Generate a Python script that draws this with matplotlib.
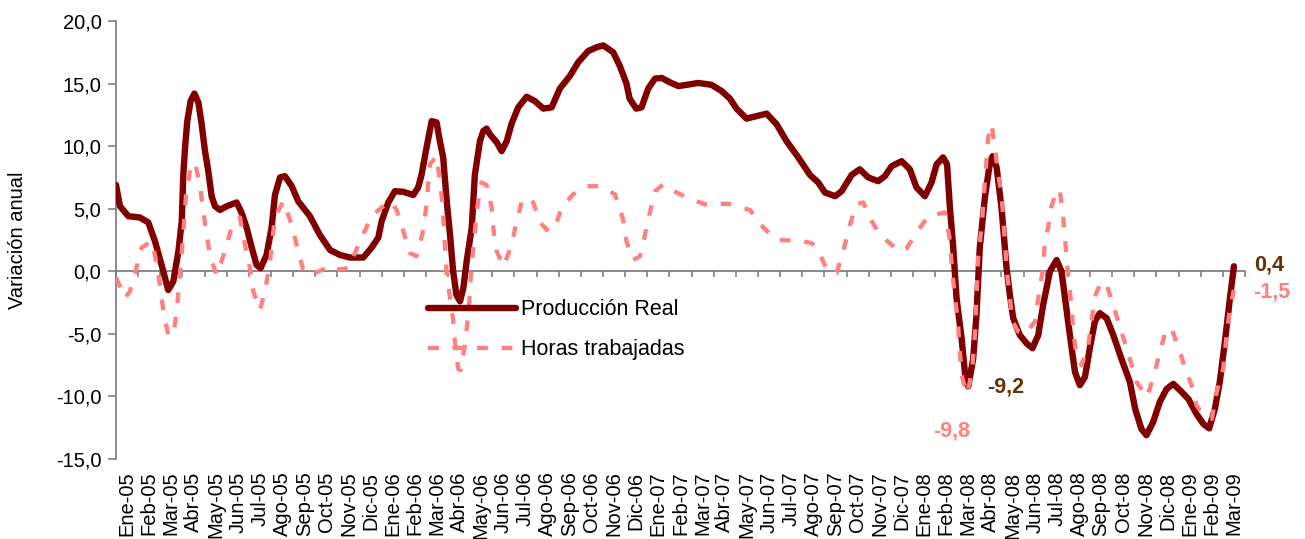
import matplotlib
matplotlib.use('Agg')
import matplotlib.pyplot as plt
from matplotlib.ticker import FuncFormatter

plt.rcParams['font.family'] = ['Liberation Sans', 'DejaVu Sans']

# meses (categorias del eje)
meses = ['Ene-05', 'Feb-05', 'Mar-05', 'Abr-05', 'May-05', 'Jun-05', 'Jul-05', 'Ago-05',
         'Sep-05', 'Oct-05', 'Nov-05', 'Dic-05', 'Ene-06', 'Feb-06', 'Mar-06', 'Abr-06',
         'May-06', 'Jun-06', 'Jul-06', 'Ago-06', 'Sep-06', 'Oct-06', 'Nov-06', 'Dic-06',
         'Ene-07', 'Feb-07', 'Mar-07', 'Abr-07', 'May-07', 'Jun-07', 'Jul-07', 'Ago-07',
         'Sep-07', 'Oct-07', 'Nov-07', 'Dic-07', 'Ene-08', 'Feb-08', 'Mar-08', 'Abr-08',
         'May-08', 'Jun-08', 'Jul-08', 'Ago-08', 'Sep-08', 'Oct-08', 'Nov-08', 'Dic-08',
         'Ene-09', 'Feb-09', 'Mar-09']

# produccion real: posicion (en meses desde Ene-05) y variacion anual
t_prod = [0.0, 0.18, 0.56, 1.08, 1.46, 1.76, 2.06, 2.36, 2.59, 2.82, 2.97, 3.04, 3.12, 3.22,
          3.37, 3.54, 3.72, 3.87, 4.02, 4.17, 4.32, 4.47, 4.70, 5.0, 5.45, 5.67, 5.9, 6.13,
          6.35, 6.53, 6.8, 7.03, 7.18, 7.41, 7.63, 7.94, 8.23, 8.76, 9.21, 9.67, 10.12,
          10.57, 11.17, 11.55, 11.85, 12.0, 12.3, 12.6, 12.98, 13.43, 13.65, 13.8, 14.03,
          14.26, 14.48, 14.63, 14.78, 14.94, 15.09, 15.23, 15.38, 15.54, 15.69, 15.84,
          16.07, 16.21, 16.44, 16.59, 16.74, 16.89, 17.2, 17.42, 17.65, 17.87, 18.17,
          18.55, 18.92, 19.3, 19.68, 20.05, 20.5, 20.88, 21.33, 21.71, 22.01, 22.46, 22.76,
          23.06, 23.2, 23.5, 23.74, 24.04, 24.35, 24.65, 25.02, 25.4, 25.78, 26.3, 26.9,
          27.36, 27.73, 28.03, 28.48, 28.94, 29.39, 29.84, 30.29, 30.82, 31.35, 31.72,
          32.02, 32.48, 32.78, 33.23, 33.6, 33.98, 34.43, 34.73, 35.04, 35.49, 35.86,
          36.16, 36.54, 36.84, 37.07, 37.36, 37.54, 37.67, 37.82, 37.97, 38.2, 38.39, 38.5,
          38.72, 38.87, 39.02, 39.25, 39.48, 39.6, 39.78, 40.0, 40.23, 40.38, 40.53, 40.83,
          41.13, 41.4, 41.66, 41.88, 42.19, 42.49, 42.71, 42.87, 43.09, 43.32, 43.54,
          43.77, 43.99, 44.22, 44.44, 44.75, 45.05, 45.42, 45.8, 46.04, 46.32, 46.55,
          46.85, 47.15, 47.46, 47.76, 48.06, 48.44, 48.81, 49.12, 49.38, 49.64, 49.86,
          50.09, 50.32, 50.5]
prod = [6.9, 5.2, 4.4, 4.3, 3.9, 2.4, 0.5, -1.5, -0.8, 1.6, 4.0, 7.7, 9.9, 12.0,
        13.6, 14.2, 13.5, 11.75, 9.6, 8.0, 6.0, 5.2, 4.9, 5.2, 5.5, 4.7, 3.5, 1.9,
        0.5, 0.25, 1.3, 3.5, 6.1, 7.5, 7.6, 6.8, 5.6, 4.4, 2.9, 1.7, 1.3,
        1.1, 1.1, 1.9, 2.7, 4.0, 5.5, 6.4, 6.35, 6.1, 6.7, 7.7, 9.9,
        12.0, 11.9, 10.4, 9.1, 5.6, 2.9, 0.0, -1.9, -2.4, -1.35, 0.8,
        3.5, 7.7, 10.4, 11.2, 11.4, 10.95, 10.3, 9.6, 10.4, 11.8, 13.1,
        13.95, 13.6, 13.0, 13.1, 14.6, 15.6, 16.7, 17.6, 17.9, 18.05, 17.5, 16.4,
        15.0, 13.8, 13.0, 13.1, 14.6, 15.4, 15.45, 15.1, 14.8, 14.9, 15.05, 14.9,
        14.4, 13.8, 13.0, 12.2, 12.4, 12.6, 11.75, 10.4, 9.1, 7.7, 7.1,
        6.3, 6.0, 6.4, 7.7, 8.15, 7.5, 7.2, 7.6, 8.4, 8.8, 8.15,
        6.7, 6.0, 7.1, 8.55, 9.1, 8.55, 5.1, 1.9, -2.15, -5.4, -8.85, -9.2,
        -7.0, -3.5, 1.9, 5.9, 8.7, 9.2, 8.3, 5.1, 0.25, -1.9, -3.75, -5.1,
        -5.75, -6.15, -5.1, -2.7, 0.0, 0.9, 0.0, -2.15, -5.1, -8.05, -9.1,
        -8.45, -6.15, -4.0, -3.35, -3.75, -5.1, -7.0, -8.85, -11.0, -12.6, -13.1,
        -12.05, -10.45, -9.4, -9.0, -9.5, -10.2, -11.4, -12.2, -12.55, -11.0, -8.85,
        -5.65, -2.15, 0.4]

# horas trabajadas
t_horas = [0.0, 0.41, 0.63, 0.86, 1.16, 1.61, 1.76, 1.99, 2.14, 2.36, 2.59, 2.74, 2.89,
           3.01, 3.16, 3.34, 3.57, 3.79, 3.94, 4.1, 4.25, 4.55, 4.92, 5.22, 5.6, 5.83,
           6.05, 6.2, 6.5, 6.73, 6.96, 7.18, 7.56, 7.94, 8.23, 8.46, 8.76, 9.3, 9.67,
           9.89, 10.49, 11.02, 11.55, 12.0, 12.38, 12.68, 12.98, 13.28, 13.58, 13.85,
           14.0, 14.18, 14.48, 14.63, 14.75, 14.81, 14.94, 15.09, 15.23, 15.31, 15.46,
           15.57, 15.76, 15.88, 15.96, 16.02, 16.11, 16.21, 16.32, 16.51, 16.74, 16.97,
           17.07, 17.2, 17.5, 17.87, 18.1, 18.33, 18.55, 18.85, 19.15, 19.53, 19.83,
           20.13, 20.65, 21.26, 21.86, 22.54, 22.69, 22.91, 23.06, 23.36, 23.67, 23.89,
           24.09, 24.35, 24.72, 25.32, 25.78, 26.6, 27.66, 28.64, 29.24, 29.84, 30.89,
           31.42, 31.65, 32.02, 32.32, 32.55, 32.85, 33.15, 33.45, 33.75, 34.2, 34.58,
           35.4, 35.7, 36.24, 36.7, 37.44, 37.64, 37.74, 37.82, 37.94, 38.05, 38.12,
           38.2, 38.42, 38.57, 38.69, 38.8, 38.87, 38.95, 39.1, 39.18, 39.25, 39.4,
           39.55, 39.7, 39.85, 40.0, 40.08, 40.15, 40.26, 40.38, 40.5, 40.75, 41.1,
           41.51, 41.66, 41.88, 41.96, 42.11, 42.26, 42.51, 42.64, 42.78, 42.87, 42.95,
           43.06, 43.17, 43.24, 43.39, 43.62, 43.92, 44.07, 44.22, 44.52, 44.75, 45.05,
           45.42, 45.8, 46.1, 46.58, 46.93, 47.15, 47.43, 47.68, 48.06, 48.36, 48.59,
           48.81, 49.12, 49.5, 49.72, 50.02, 50.17, 50.32, 50.5]
horas = [-0.5, -2.15, -1.6, -0.15, 1.9, 2.4, 1.3, -1.1, -3.2, -5.1, -5.1, -3.2, -0.3,
         2.4, 6.0, 8.0, 8.7, 6.9, 4.8, 2.9, 1.2, -0.3, 1.6, 3.5, 4.3, 2.1,
         0.25, -1.6, -3.1, -1.6, 0.8, 4.3, 5.6, 3.7, 1.6, 0.1, -0.3, 0.1, 0.4,
         0.1, 0.25, 2.4, 4.4, 5.1, 5.6, 4.9, 3.2, 1.45, 1.2, 3.05,
         4.9, 8.55, 9.2, 7.2, 5.35, 3.5, -0.3, -2.15, -3.9, -5.6, -7.8,
         -7.9, -5.9, -4.0, -2.4, -0.55, 1.3, 3.2, 5.1, 7.1, 6.9, 5.1,
         3.0, 1.6, 0.4, 2.1, 4.0, 5.6, 5.9, 5.5, 3.9, 3.2, 3.5,
         5.1, 6.15, 6.8, 6.8, 6.15, 5.35, 4.1, 2.4, 0.9, 1.2, 2.9,
         4.5, 6.4, 6.95, 6.3, 5.9, 5.35, 5.4, 4.9, 3.5, 2.5, 2.45,
         2.25, 1.9, 0.5, -0.15, -0.15, 1.6, 3.7, 5.35, 5.5, 3.8, 2.8,
         1.6, 1.8, 3.3, 4.4, 4.7, 2.8, 0.8, -0.8, -2.7, -4.55, -6.4,
         -8.3, -9.8, -8.85, -7.5, -5.1, -2.15, 1.3, 3.5, 5.35, 7.2, 10.7,
         11.75, 9.9, 7.75, 6.15, 4.3, 2.4, -0.3, -2.15, -4.0, -4.8, -5.0,
         -4.0, -2.15, 0.25, 2.4, 3.5, 5.2, 6.55, 6.4, 4.4, 2.65, 0.8,
         -1.1, -2.95, -4.85, -6.7, -7.5, -5.9, -4.0, -2.0, -0.8, -1.1, -2.7,
         -4.85, -7.0, -8.85, -10.05, -8.05, -6.45, -4.7, -4.55, -6.45, -8.05, -9.1,
         -10.7, -11.5, -11.8, -9.65, -7.75, -5.1, -2.95, -1.5]

c_prod = '#800000'
c_horas = '#FF8080'
gris = '#777777'

fig = plt.figure(figsize=(13.05, 5.39), dpi=100)
ax = fig.add_axes([116/1305, 1-459/539, 1129/1305, 438/539])

ax.plot(t_prod, prod, color=c_prod, lw=4.6, solid_joinstyle='round',
        solid_capstyle='round', label='Producción Real', zorder=3)
ax.plot(t_horas, horas, color=c_horas, lw=3.1, dashes=(2.5, 3.2),
        label='Horas trabajadas', zorder=4)

ax.set_xlim(0, len(meses))
ax.set_ylim(-15, 20)
ax.set_yticks(range(-15, 21, 5))
ax.yaxis.set_major_formatter(FuncFormatter(lambda v, p: ('%.1f' % v).replace('.', ',')))

# eje x cruzando en cero, etiquetas abajo
for s in ['top', 'right']:
    ax.spines[s].set_visible(False)
ax.spines['bottom'].set_position(('data', 0))
for s in ['left', 'bottom']:
    ax.spines[s].set_color(gris)
    ax.spines[s].set_linewidth(1.2)
ax.set_xticks(range(len(meses) + 1))
ax.tick_params(axis='x', labelbottom=False, direction='out', length=4, width=1.1, color=gris)
ax.tick_params(axis='y', direction='out', length=5.5, width=1.1, color=gris, pad=5,
               labelsize=14.5)

sec = ax.secondary_xaxis('bottom')
sec.set_xticks([i + 0.5 for i in range(len(meses))], labels=meses, rotation=90, fontsize=14.5)
sec.tick_params(length=0, pad=9)
sec.spines['bottom'].set_visible(False)

fig.text(18/1305, 1-240/539, 'Variación anual', rotation=90, ha='center', va='center',
         fontsize=14.5)

leg = ax.legend(loc='upper left', bbox_to_anchor=(0.2764, 0.365), frameon=False,
                fontsize=15.5, handlelength=4.1, handletextpad=0.2, borderpad=0,
                borderaxespad=0, labelspacing=0.88)

# etiquetas de valores
ax.annotate('0,4', xy=(t_prod[-1], prod[-1]), xytext=(20, 1.5), textcoords='offset pixels',
            ha='left', va='center', color='#663300', fontsize=15.5, fontweight='bold')
ax.annotate('-1,5', xy=(t_horas[-1], horas[-1]), xytext=(19, -2), textcoords='offset pixels',
            ha='left', va='center', color=c_horas, fontsize=15.5, fontweight='bold')
i_p = prod.index(min(prod[:140]))
ax.annotate('-9,2', xy=(t_prod[i_p], prod[i_p]), xytext=(19, -1), textcoords='offset pixels',
            ha='left', va='center', color='#663300', fontsize=15.5, fontweight='bold')
i_h = horas.index(min(horas[:140]))
ax.annotate('-9,8', xy=(t_horas[i_h], horas[i_h]), xytext=(4, -37), textcoords='offset pixels',
            ha='right', va='center', color=c_horas, fontsize=15.5, fontweight='bold')

fig.savefig('out.png', dpi=100)
